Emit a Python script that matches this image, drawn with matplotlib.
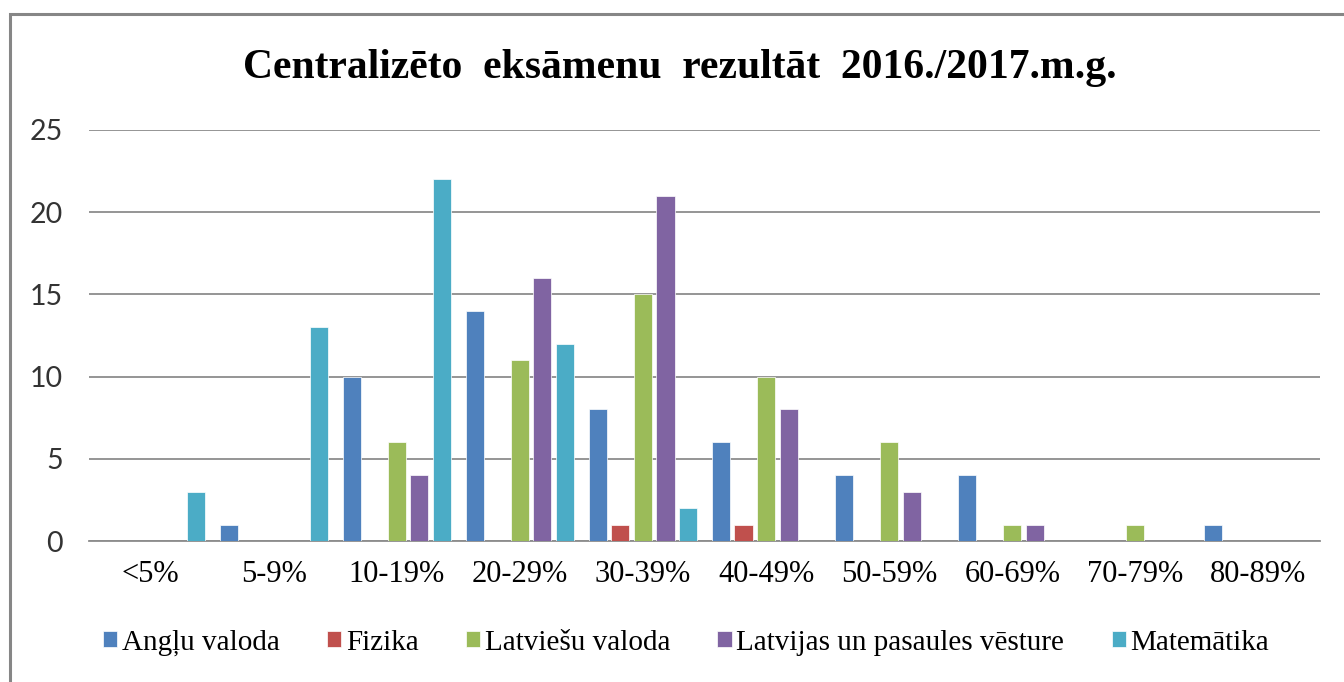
import matplotlib
matplotlib.use("Agg")
import matplotlib.pyplot as plt
import numpy as np
from matplotlib.patches import Rectangle

categories = ["<5%", "5-9%", "10-19%", "20-29%", "30-39%", "40-49%",
              "50-59%", "60-69%", "70-79%", "80-89%"]
series_names = ["Angļu valoda", "Fizika", "Latviešu valoda",
                "Latvijas un pasaules vēsture", "Matemātika"]
anglu = [0, 1, 10, 14, 8, 6, 4, 4, 0, 1]
fizika = [0, 0, 0, 0, 1, 1, 0, 0, 0, 0]
latviesu = [0, 0, 6, 11, 15, 10, 6, 1, 1, 0]
vesture = [0, 0, 4, 16, 21, 8, 3, 1, 0, 0]
matematika = [3, 13, 22, 12, 2, 0, 0, 0, 0, 0]
yticks = [0, 5, 10, 15, 20, 25]
title = "Centralizēto  eksāmenu  rezultāt  2016./2017.m.g."

colors = ["#4F81BD", "#C0504D", "#9BBB59", "#8064A2", "#4BACC6"]
series = [anglu, fizika, latviesu, vesture, matematika]

W, H = 1344, 682
fig = plt.figure(figsize=(W / 100, H / 100), dpi=100)
fig.patch.set_facecolor("white")

# chart border (top and left visible)
fig.add_artist(Rectangle((9.5 / W, -0.05), 1.2, (H - 13.5) / H + 0.05,
                         transform=fig.transFigure, fill=False,
                         edgecolor="#868686", linewidth=2.2))

ax = fig.add_axes([89 / W, 1 - 541 / H, (1320 - 89) / W, (541 - 130) / H])
x = np.arange(len(categories))
slot = 0.183
bw = 0.147
for i, (vals, c, name) in enumerate(zip(series, colors, series_names)):
    ax.bar(x + (i - 2) * slot, vals, width=bw, color=c, label=name,
           edgecolor="white", linewidth=0.5, zorder=3)

ax.set_xlim(-0.5, len(categories) - 0.5)
ax.set_ylim(0, 25)
ax.set_yticks(yticks)
ax.set_xticks(x)
ax.set_xticklabels(categories, fontfamily="Liberation Serif", fontsize=22)
ax.set_yticklabels([str(v) for v in yticks], fontfamily="Lato", fontsize=20.5,
                   color="#333333")
ax.tick_params(axis="both", length=0)
ax.tick_params(axis="y", pad=19)
ax.tick_params(axis="x", pad=14)
ax.grid(axis="y", color="#8c8c8c", linewidth=1.3, zorder=0)
for s in ["top", "right", "left"]:
    ax.spines[s].set_visible(False)
ax.spines["bottom"].set_color("#8c8c8c")
ax.spines["bottom"].set_linewidth(1.3)

fig.text(680 / W, 1 - 68 / H, title, ha="center", va="center",
         fontfamily="Liberation Serif", fontweight="bold", fontsize=30)

handles, labels = ax.get_legend_handles_labels()
leg = fig.legend(handles, labels, loc="center", bbox_to_anchor=(686 / W, 1 - 643 / H),
                 ncol=5, frameon=False, handlelength=0.5, handleheight=0.47,
                 handletextpad=0.15, columnspacing=1.62,
                 prop={"family": "Liberation Serif", "size": 21})

fig.savefig("out.png", dpi=100)
